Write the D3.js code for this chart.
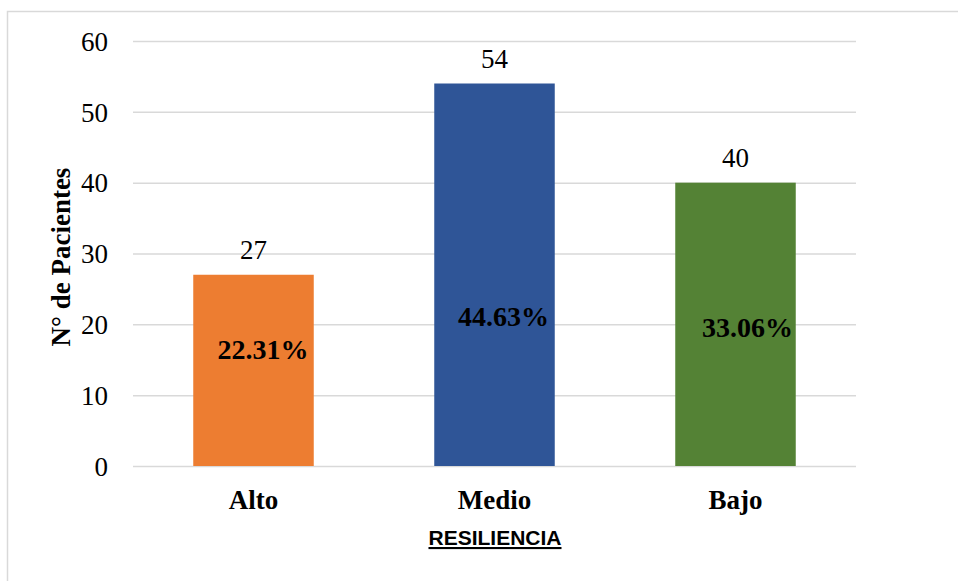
<!DOCTYPE html>
<html><head><meta charset="utf-8">
<script src="https://cdn.jsdelivr.net/npm/d3@7"></script>
<style>html,body{margin:0;padding:0;background:#fff;}</style>
</head><body>
<svg id="c" width="958" height="581"></svg>
<script>
const categories = ["Alto", "Medio", "Bajo"];
const values = [27, 54, 40];
const percentLabels = ["22.31%", "44.63%", "33.06%"];
const percentLabelValues = [16.5, 21.05, 19.6];
const percentLabelOffsets = [9.5, 9, 12];
const colors = ["#ED7D31", "#2F5597", "#548235"];
const yTicks = [0, 10, 20, 30, 40, 50, 60];

const svg = d3.select("#c");
// outer chart border
svg.append("rect").attr("x", 7.5).attr("y", 11.5).attr("width", 1000).attr("height", 1000)
  .attr("fill", "none").attr("stroke", "#d9d9d9").attr("stroke-width", 1.5);

const x = d3.scaleBand().domain(categories).range([133, 856]).paddingInner(0.5).paddingOuter(0.25);
const y = d3.scaleLinear().domain([0, 60]).range([466, 41]);

// gridlines
const yAxis = d3.axisLeft(y).tickValues(yTicks).tickSize(-(856 - 133)).tickFormat(d3.format("d"));
const ga = svg.append("g").attr("transform", "translate(133,0)").call(yAxis);
ga.select(".domain").remove();
ga.selectAll(".tick line").attr("stroke", "#d9d9d9").attr("stroke-width", 1.5);
ga.selectAll(".tick text").attr("x", -25).attr("dy", "0.34em").attr("font-family", "Liberation Serif")
  .attr("font-size", 27).attr("fill", "#000");

// bars
svg.selectAll("rect.bar").data(values).join("rect").attr("class", "bar")
  .attr("x", (d, i) => x(categories[i])).attr("width", x.bandwidth())
  .attr("y", d => y(d)).attr("height", d => y(0) - y(d))
  .attr("fill", (d, i) => colors[i]);

// value labels
svg.selectAll("text.val").data(values).join("text").attr("class", "val")
  .attr("x", (d, i) => x(categories[i]) + x.bandwidth() / 2)
  .attr("y", d => y(d) - 16)
  .attr("text-anchor", "middle").attr("font-family", "Liberation Serif")
  .attr("font-size", 27).attr("fill", "#000").text(d => d);

// percent labels
svg.selectAll("text.pct").data(percentLabels).join("text").attr("class", "pct")
  .attr("x", (d, i) => x(categories[i]) + x.bandwidth() / 2 + percentLabelOffsets[i])
  .attr("y", (d, i) => y(percentLabelValues[i]))
  .attr("text-anchor", "middle").attr("dy", "0.34em")
  .attr("font-family", "Liberation Serif").attr("font-weight", "bold")
  .attr("font-size", 28).attr("fill", "#000").text(d => d);

// x axis category labels
const xAxis = d3.axisBottom(x).tickSize(0);
const gx = svg.append("g").attr("transform", "translate(0,466)").call(xAxis);
gx.select(".domain").remove();
gx.selectAll(".tick text").attr("y", 43).attr("dy", "0").attr("font-family", "Liberation Serif")
  .attr("font-weight", "bold").attr("font-size", 27).attr("fill", "#000");

// y axis title
svg.append("text").attr("transform", "translate(70,257) rotate(-90)")
  .attr("text-anchor", "middle").attr("font-family", "Liberation Serif").attr("font-weight", "bold")
  .attr("font-size", 27).attr("fill", "#000").text("N° de Pacientes");

// x axis title
svg.append("text").attr("x", 495).attr("y", 545).attr("text-anchor", "middle")
  .attr("font-family", "Liberation Sans").attr("font-weight", "bold").attr("font-size", 21)
  .attr("text-decoration", "underline").attr("fill", "#000").text("RESILIENCIA");
</script>
</body></html>
